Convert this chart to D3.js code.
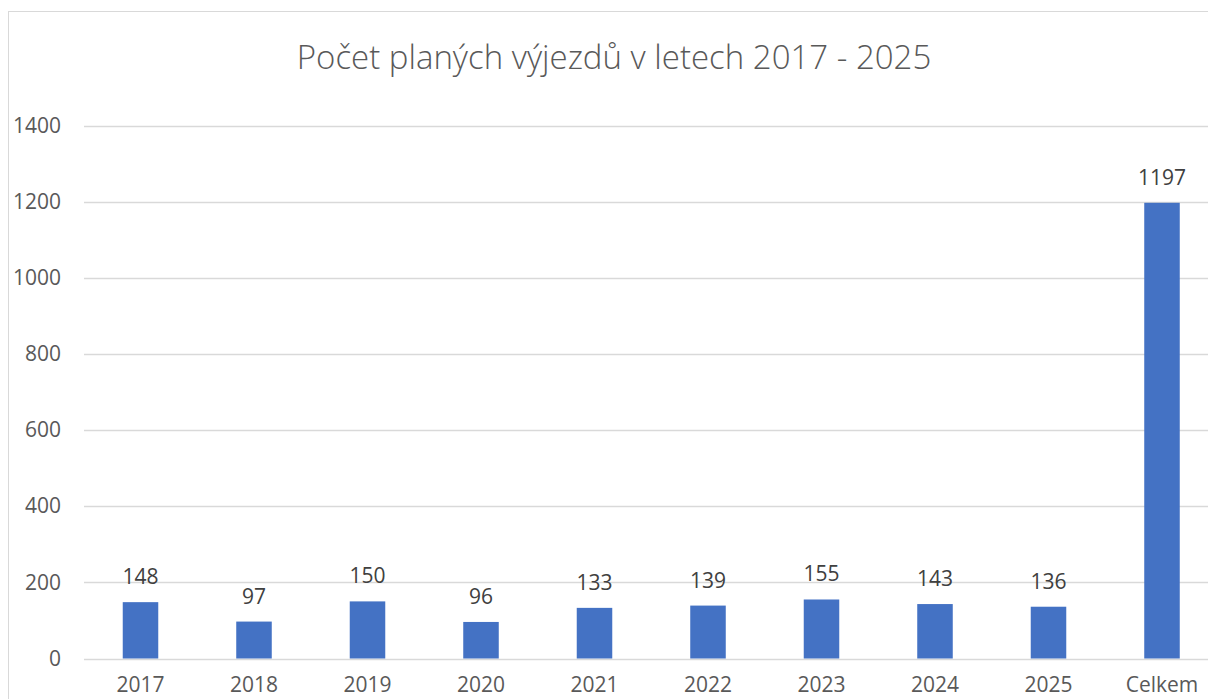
<!DOCTYPE html>
<html lang="cs">
<head>
<meta charset="UTF-8">
<title>Počet planých výjezdů</title>
<script src="https://d3js.org/d3.v7.min.js"></script>
<style>
  html, body { margin: 0; padding: 0; background: #fff; }
  svg { display: block; font-family: "Open Sans", sans-serif; }
</style>
</head>
<body>
<svg id="chart" width="1208" height="699"></svg>
<script>
// data
const categories = ['2017', '2018', '2019', '2020', '2021', '2022', '2023', '2024', '2025', 'Celkem'];
const values = [148, 97, 150, 96, 133, 139, 155, 143, 136, 1197];
const yTicks = [0, 200, 400, 600, 800, 1000, 1200, 1400];
const title = 'Počet planých výjezdů v letech 2017 - 2025';

const svg = d3.select('#chart');

// chart frame (cut off at right and bottom like the source)
svg.append('rect')
  .attr('x', 8.5).attr('y', 11.5)
  .attr('width', 1300).attr('height', 800)
  .attr('fill', 'none').attr('stroke', '#d9d9d9').attr('stroke-width', 1);

svg.append('text')
  .attr('x', 614).attr('y', 69)
  .attr('text-anchor', 'middle')
  .attr('font-size', 33)
  .attr('font-weight', 300)
  .attr('fill', '#595959')
  .text(title);

const x = d3.scaleBand().domain(categories).range([83.75, 1218.75]).paddingInner(0.687).paddingOuter(0.3435);
const y = d3.scaleLinear().domain([0, 1400]).range([658.5, 125.5]);

// gridlines
svg.append('g')
  .selectAll('line')
  .data(yTicks)
  .join('line')
  .attr('x1', 84).attr('x2', 1220)
  .attr('y1', d => Math.round(y(d)) + 0.5)
  .attr('y2', d => Math.round(y(d)) + 0.5)
  .attr('stroke', '#d9d9d9').attr('stroke-width', 1.3);

// y axis labels
const yAxis = svg.append('g')
  .attr('transform', 'translate(61,0)')
  .call(d3.axisLeft(y).tickValues(yTicks).tickSize(0).tickPadding(0).tickFormat(d3.format('d')));
yAxis.select('.domain').remove();
yAxis.selectAll('text')
  .attr('font-size', 21)
  .attr('font-family', '"Open Sans", sans-serif')
  .attr('fill', '#595959');

// x axis labels
const xAxis = svg.append('g')
  .attr('transform', 'translate(0,658.5)')
  .call(d3.axisBottom(x).tickSize(0).tickPadding(19));
xAxis.select('.domain').remove();
xAxis.selectAll('text')
  .attr('font-size', 21)
  .attr('font-family', '"Open Sans", sans-serif')
  .attr('fill', '#595959');

// bars
svg.append('g')
  .selectAll('rect')
  .data(values)
  .join('rect')
  .attr('x', (d, i) => x(categories[i]))
  .attr('width', x.bandwidth())
  .attr('y', d => y(d))
  .attr('height', d => y(0) - y(d))
  .attr('fill', '#4472c4');

// value labels
svg.append('g')
  .selectAll('text')
  .data(values)
  .join('text')
  .attr('x', (d, i) => x(categories[i]) + x.bandwidth() / 2)
  .attr('y', d => y(d) - 18)
  .attr('text-anchor', 'middle')
  .attr('font-size', 21)
  .attr('fill', '#404040')
  .text(d => d);
</script>
</body>
</html>
